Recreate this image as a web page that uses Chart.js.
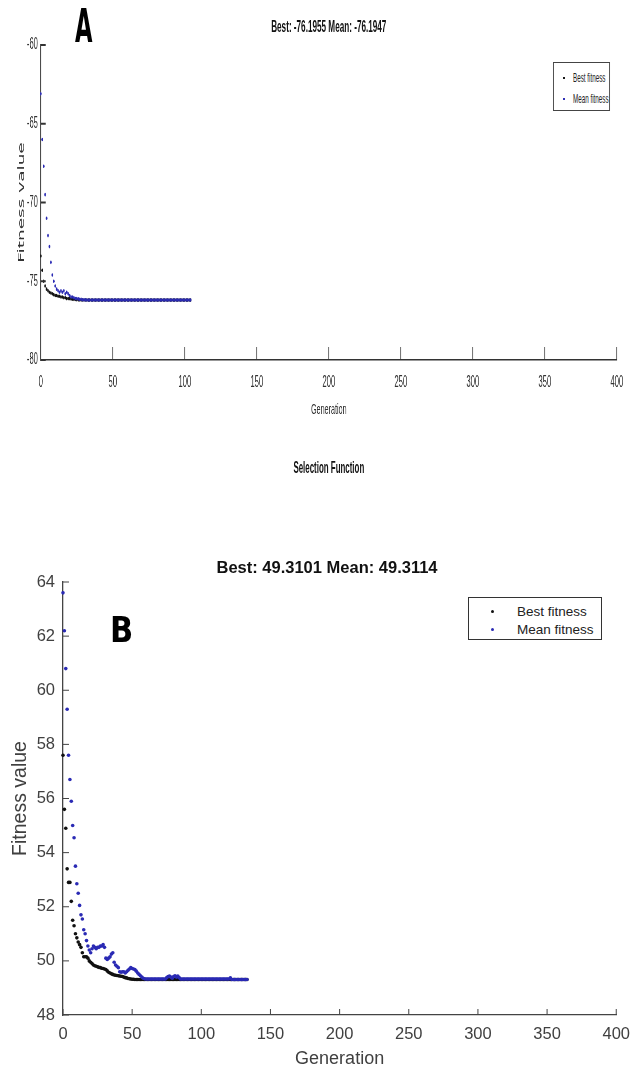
<!DOCTYPE html>
<html><head><meta charset="utf-8">
<script src="https://cdn.jsdelivr.net/npm/chart.js@4.4.1/dist/chart.umd.min.js"></script>
<style>
html,body{margin:0;padding:0;background:#fff;overflow:hidden;width:640px;height:1070px;}
#page{position:relative;width:640px;height:1070px;overflow:hidden;background:#fff;}
#wa{position:absolute;left:0;top:0;width:1334px;height:500px;transform:scaleX(0.48);transform-origin:0 0;}
#ca{position:absolute;left:0;top:0;}
#cb{position:absolute;left:0;top:540px;}
.t{position:absolute;white-space:nowrap;font-family:"Liberation Sans",Arial,sans-serif;color:#111;}
.box{position:absolute;box-sizing:border-box;background:#fff;}
.dot{position:absolute;}
</style></head>
<body><div id="page">
<div id="wa">
  <canvas id="ca" width="1334" height="430"></canvas>
  <div class="t" style="left:385px;width:600px;top:17px;text-align:center;font-weight:bold;font-size:17px;line-height:20px;">Best: -76.1955 Mean: -76.1947</div>
  <div class="t" style="left:156px;top:2px;font-family:'DejaVu Sans',sans-serif;font-weight:bold;font-size:47px;line-height:47px;color:#000;">A</div>
  <div class="box" style="left:1152px;top:62px;width:119px;height:49px;border:1px solid #444;border-left-width:2px;border-right-width:2px;">
    <div class="dot" style="left:19px;top:14px;width:4px;height:2px;background:#111;"></div>
    <div class="dot" style="left:19px;top:35px;width:4px;height:2px;background:#2a2ab4;"></div>
    <div class="t" style="left:40px;top:7px;font-size:13px;line-height:16px;color:#222;">Best fitness</div>
    <div class="t" style="left:40px;top:28px;font-size:13px;line-height:16px;color:#222;">Mean fitness</div>
  </div>
  <div class="t" style="left:385px;width:600px;top:457px;text-align:center;font-weight:bold;font-size:16.5px;line-height:20px;">Selection Function</div>
</div>
<canvas id="cb" width="640" height="530"></canvas>
<div class="t" style="left:127px;width:400px;top:557px;text-align:center;font-weight:bold;font-size:16.5px;line-height:20px;">Best: 49.3101 Mean: 49.3114</div>
<div class="t" style="left:110px;top:613px;font-family:'DejaVu Sans',sans-serif;font-weight:bold;font-size:35px;line-height:35px;color:#000;transform:scaleX(0.87);transform-origin:0 0;">B</div>
<div class="box" style="left:468px;top:597px;width:134px;height:43px;border:1px solid #333;">
  <div class="dot" style="left:22px;top:12px;width:3px;height:3px;border-radius:50%;background:#111;"></div>
  <div class="dot" style="left:22px;top:30px;width:3px;height:3px;border-radius:50%;background:#2a2ab4;"></div>
  <div class="t" style="left:48px;top:6px;font-size:13.5px;line-height:16px;color:#222;">Best fitness</div>
  <div class="t" style="left:48px;top:24px;font-size:13.5px;line-height:16px;color:#222;">Mean fitness</div>
</div>
</div>
<script>
// ---------- Data ----------
const seriesNames = ['Best fitness', 'Mean fitness'];
const xTitle = 'Generation';
const yTitle = 'Fitness value';

// Panel A: value per generation (index = generation)
const bestA = [
  -73.4, -74.3, -75.0, -75.3, -75.5, -75.6, -75.7, -75.75, -75.8, -75.85,
  -75.9, -75.9, -75.95, -75.95, -76.0, -76.0, -76.05, -76.05, -76.1, -76.1,
  -76.1, -76.12, -76.14, -76.15, -76.16, -76.17, -76.18, -76.18, -76.19, -76.19,
  -76.19, -76.195, -76.1955, -76.1955, -76.1955, -76.1955, -76.1955, -76.1955, -76.1955, -76.1955,
  -76.1955, -76.1955, -76.1955, -76.1955, -76.1955, -76.1955, -76.1955, -76.1955, -76.1955, -76.1955,
  -76.1955, -76.1955, -76.1955, -76.1955, -76.1955, -76.1955, -76.1955, -76.1955, -76.1955, -76.1955,
  -76.1955, -76.1955, -76.1955, -76.1955, -76.1955, -76.1955, -76.1955, -76.1955, -76.1955, -76.1955,
  -76.1955, -76.1955, -76.1955, -76.1955, -76.1955, -76.1955, -76.1955, -76.1955, -76.1955, -76.1955,
  -76.1955, -76.1955, -76.1955, -76.1955, -76.1955, -76.1955, -76.1955, -76.1955, -76.1955, -76.1955,
  -76.1955, -76.1955, -76.1955, -76.1955, -76.1955, -76.1955, -76.1955, -76.1955, -76.1955, -76.1955,
  -76.1955, -76.1955, -76.1955, -76.1955, -76.1955
];
const meanA = [
  -63.1, -66.0, -67.7, -69.5, -71.0, -72.1, -72.8, -73.8, -74.6, -75.0,
  -75.3, -75.5, -75.6, -75.7, -75.6, -75.7, -75.6, -75.8, -75.7, -75.8,
  -75.9, -76.0, -76.0, -76.05, -76.1, -76.1, -76.12, -76.15, -76.15, -76.17,
  -76.18, -76.18, -76.19, -76.19, -76.19, -76.1947, -76.1947, -76.1947, -76.1947, -76.1947,
  -76.1947, -76.1947, -76.1947, -76.1947, -76.1947, -76.1947, -76.1947, -76.1947, -76.1947, -76.1947,
  -76.1947, -76.1947, -76.1947, -76.1947, -76.1947, -76.1947, -76.1947, -76.1947, -76.1947, -76.1947,
  -76.1947, -76.1947, -76.1947, -76.1947, -76.1947, -76.1947, -76.1947, -76.1947, -76.1947, -76.1947,
  -76.1947, -76.1947, -76.1947, -76.1947, -76.1947, -76.1947, -76.1947, -76.1947, -76.1947, -76.1947,
  -76.1947, -76.1947, -76.1947, -76.1947, -76.1947, -76.1947, -76.1947, -76.1947, -76.1947, -76.1947,
  -76.1947, -76.1947, -76.1947, -76.1947, -76.1947, -76.1947, -76.1947, -76.1947, -76.1947, -76.1947,
  -76.1947, -76.1947, -76.1947, -76.1947, -76.1947
];

// Panel B
const bestB = [
  57.6, 55.6, 54.9, 53.4, 52.9, 52.9, 52.2, 51.5, 51.3, 51.0,
  50.85, 50.7, 50.6, 50.5, 50.3, 50.15, 50.15, 50.15, 50.1, 50.0,
  49.95, 49.9, 49.85, 49.82, 49.8, 49.78, 49.76, 49.75, 49.73, 49.72,
  49.7, 49.68, 49.63, 49.58, 49.55, 49.52, 49.5, 49.48, 49.47, 49.46,
  49.45, 49.44, 49.43, 49.42, 49.4, 49.38, 49.37, 49.35, 49.34, 49.33,
  49.32, 49.32, 49.3101, 49.3101, 49.3101, 49.3101, 49.3101, 49.3101, 49.3101, 49.3101,
  49.3101, 49.3101, 49.3101, 49.3101, 49.3101, 49.3101, 49.3101, 49.3101, 49.3101, 49.3101,
  49.3101, 49.3101, 49.3101, 49.3101, 49.3101, 49.3101, 49.3101, 49.3101, 49.3101, 49.3101,
  49.3101, 49.3101, 49.3101, 49.3101, 49.3101, 49.3101, 49.3101, 49.3101, 49.3101, 49.3101,
  49.3101, 49.3101, 49.3101, 49.3101, 49.3101, 49.3101, 49.3101, 49.3101, 49.3101, 49.3101,
  49.3101, 49.3101, 49.3101, 49.3101, 49.3101, 49.3101, 49.3101, 49.3101, 49.3101, 49.3101,
  49.3101, 49.3101, 49.3101, 49.3101, 49.3101, 49.3101, 49.3101, 49.3101, 49.3101, 49.3101,
  49.3101, 49.3101, 49.3101, 49.3101, 49.3101, 49.3101, 49.3101, 49.3101, 49.3101, 49.3101,
  49.3101, 49.3101, 49.3101, 49.3101
];
const meanB = [
  63.6, 62.2, 60.8, 59.3, 57.6, 56.7, 55.9, 55.0, 54.55, 53.5,
  52.85, 52.5, 52.05, 51.7, 51.55, 51.15, 51.0, 50.75, 50.55, 50.4,
  50.3, 50.45, 50.55, 50.5, 50.45, 50.5, 50.5, 50.55, 50.55, 50.6,
  50.5, 50.1, 50.05, 50.1, 50.15, 50.25, 50.3, 49.95, 49.85, 49.8,
  49.75, 49.6, 49.58, 49.6, 49.6, 49.55, 49.6, 49.65, 49.7, 49.75,
  49.72, 49.7, 49.68, 49.62, 49.55, 49.5, 49.45, 49.4, 49.36, 49.34,
  49.33, 49.33, 49.33, 49.33, 49.33, 49.33, 49.33, 49.33, 49.33, 49.33,
  49.33, 49.33, 49.33, 49.33, 49.33, 49.38, 49.42, 49.44, 49.4, 49.36,
  49.42, 49.45, 49.4, 49.44, 49.38, 49.33, 49.33, 49.33, 49.33, 49.33,
  49.33, 49.33, 49.33, 49.33, 49.33, 49.33, 49.33, 49.33, 49.33, 49.33,
  49.33, 49.33, 49.33, 49.33, 49.33, 49.33, 49.33, 49.33, 49.33, 49.33,
  49.33, 49.33, 49.33, 49.33, 49.33, 49.33, 49.33, 49.33, 49.33, 49.33,
  49.33, 49.37, 49.3114, 49.3114, 49.3114, 49.3114, 49.3114, 49.3114, 49.3114, 49.3114,
  49.3114, 49.3114, 49.3114, 49.3114
];

const xRange = [0, 400], xStep = 50;
const yRangeA = [-80, -60], yStepA = 5;
const yRangeB = [48, 64], yStepB = 2;

const colBest = '#111111';
const colMean = '#2a2ab4';

// ---------- helpers ----------
const toPts = arr => arr.map((v, i) => ({x: i, y: v}));

const inwardTicks = {
  id: 'inwardTicks',
  afterDatasetsDraw(chart, args, o) {
    const {ctx, chartArea, scales} = chart;
    ctx.save();
    ctx.strokeStyle = o.color;
    ctx.lineWidth = o.xw;
    scales.x.ticks.forEach(t => {
      const px = scales.x.getPixelForValue(t.value);
      ctx.beginPath(); ctx.moveTo(px, chartArea.bottom); ctx.lineTo(px, chartArea.bottom - o.xlen); ctx.stroke();
    });
    ctx.lineWidth = o.yw;
    scales.y.ticks.forEach(t => {
      const py = scales.y.getPixelForValue(t.value);
      ctx.beginPath(); ctx.moveTo(chartArea.left, py); ctx.lineTo(chartArea.left + o.ylen, py); ctx.stroke();
    });
    ctx.restore();
  }
};

function makeChart(canvas, best, mean, yRange, yStep, st) {
  return new Chart(canvas, {
    type: 'scatter',
    plugins: [inwardTicks],
    data: {
      datasets: [
        {label: seriesNames[0], data: toPts(best), backgroundColor: colBest, borderWidth: 0,
         pointRadius: st.r, pointHoverRadius: st.r, order: 1, clip: false},
        {label: seriesNames[1], data: toPts(mean), backgroundColor: colMean, borderWidth: 0,
         pointRadius: st.r, pointHoverRadius: st.r, order: 0, clip: false}
      ]
    },
    options: {
      responsive: false, animation: false, devicePixelRatio: 1,
      layout: {padding: st.pad},
      plugins: {legend: {display: false}, title: {display: false}, tooltip: {enabled: false},
        inwardTicks: st.ticks},
      events: [],
      scales: {
        x: {
          type: 'linear', min: xRange[0], max: xRange[1],
          grid: {display: false, drawTicks: false, tickLength: 0},
          border: {display: true, color: st.axisCol, width: st.xbw},
          ticks: {stepSize: xStep, padding: st.xpad, color: st.tickCol, maxRotation: 0, autoSkip: false,
                  font: {family: st.font, size: st.tickSize}},
          title: {display: true, text: xTitle, color: st.tickCol,
                  font: {family: st.font, size: st.xtSize}, padding: {top: 0, bottom: st.xtPad}},
          afterFit(s) { s.height = st.xh; }
        },
        y: {
          type: 'linear', min: yRange[0], max: yRange[1],
          grid: {display: false, drawTicks: false, tickLength: 0},
          border: {display: true, color: st.axisCol, width: st.ybw},
          ticks: {stepSize: yStep, padding: st.ypad, color: st.tickCol, autoSkip: false,
                  font: {family: st.font, size: st.ytickSize}},
          title: {display: true, text: yTitle, color: st.tickCol,
                  font: {family: st.ytFont, size: st.ytSize}, padding: {top: st.ytPad, bottom: 0}},
          afterFit(s) { s.width = st.yw; }
        }
      }
    }
  });
}

makeChart(document.getElementById('ca'), bestA, meanA, yRangeA, yStepA, {
  r: 1.8, pad: {top: 45, right: 49, bottom: 0, left: 0},
  ticks: {color: '#333', xlen: 13, ylen: 10, xw: 1.5, yw: 2},
  axisCol: '#333', xbw: 1.5, ybw: 2, tickCol: '#333',
  font: '"Liberation Sans", Arial, sans-serif', tickSize: 16, ytickSize: 16,
  xpad: 13, ypad: 6, xtSize: 15, xtPad: 11, xh: 70,
  ytFont: '"DejaVu Sans", sans-serif', ytSize: 18.5, ytPad: 34, yw: 85
});

makeChart(document.getElementById('cb'), bestB, meanB, yRangeB, yStepB, {
  r: 1.8, pad: {top: 42, right: 23, bottom: 0, left: 0},
  ticks: {color: '#444', xlen: 6, ylen: 6, xw: 1, yw: 1},
  axisCol: '#444', xbw: 1.3, ybw: 1.3, tickCol: '#404040',
  font: '"Liberation Sans", Arial, sans-serif', tickSize: 16.5, ytickSize: 16.5,
  xpad: 10, ypad: 8, xtSize: 18, xtPad: 0, xh: 55,
  ytFont: '"Liberation Sans", Arial, sans-serif', ytSize: 19.5, ytPad: 9, yw: 63
});
</script>
</body></html>
